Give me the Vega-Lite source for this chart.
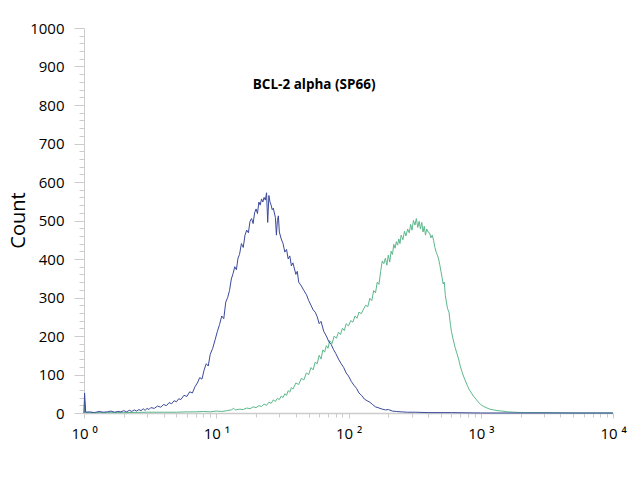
{
  "$schema": "https://vega.github.io/schema/vega-lite/v6.json",
  "width": 529,
  "height": 385,
  "autosize": {"type": "none"},
  "padding": {"left": 84, "top": 28, "right": 27, "bottom": 67},
  "background": "white",
  "config": {"view": {"stroke": null}, "font": "Open Sans"},
  "datasets": {
    "isotype": [
      {"x": 1.0, "count": 0}, {"x": 1.01, "count": 52}, {"x": 1.03, "count": 2}, {"x": 1.1, "count": 3}, {"x": 1.2, "count": 1},
      {"x": 1.3, "count": 4}, {"x": 1.4, "count": 2}, {"x": 1.5, "count": 3}, {"x": 1.6, "count": 5}, {"x": 1.7, "count": 2},
      {"x": 1.8, "count": 4}, {"x": 1.9, "count": 3}, {"x": 2.0, "count": 6}, {"x": 2.1, "count": 3}, {"x": 2.2, "count": 7},
      {"x": 2.3, "count": 4}, {"x": 2.4, "count": 8}, {"x": 2.5, "count": 5}, {"x": 2.6, "count": 9}, {"x": 2.7, "count": 6},
      {"x": 2.8, "count": 11}, {"x": 2.9, "count": 7}, {"x": 3.0, "count": 12}, {"x": 3.1, "count": 9}, {"x": 3.2, "count": 14},
      {"x": 3.4, "count": 12}, {"x": 3.6, "count": 18}, {"x": 3.8, "count": 15}, {"x": 4.0, "count": 22}, {"x": 4.2, "count": 19},
      {"x": 4.4, "count": 27}, {"x": 4.6, "count": 24}, {"x": 4.8, "count": 32}, {"x": 5.0, "count": 29}, {"x": 5.2, "count": 37},
      {"x": 5.4, "count": 35}, {"x": 5.7, "count": 46}, {"x": 6.0, "count": 43}, {"x": 6.3, "count": 55}, {"x": 6.6, "count": 52},
      {"x": 6.9, "count": 68}, {"x": 7.2, "count": 78}, {"x": 7.5, "count": 92}, {"x": 7.8, "count": 88}, {"x": 8.1, "count": 112},
      {"x": 8.4, "count": 128}, {"x": 8.7, "count": 122}, {"x": 9.0, "count": 152}, {"x": 9.4, "count": 168}, {"x": 9.8, "count": 190},
      {"x": 10.2, "count": 212}, {"x": 10.6, "count": 230}, {"x": 11.0, "count": 252}, {"x": 11.4, "count": 245}, {"x": 11.8, "count": 288},
      {"x": 12.2, "count": 300}, {"x": 12.6, "count": 318}, {"x": 13.0, "count": 348}, {"x": 13.4, "count": 362}, {"x": 13.8, "count": 380},
      {"x": 14.2, "count": 372}, {"x": 14.6, "count": 402}, {"x": 15.0, "count": 412}, {"x": 15.5, "count": 440}, {"x": 16.0, "count": 430},
      {"x": 16.5, "count": 462}, {"x": 17.0, "count": 475}, {"x": 17.5, "count": 468}, {"x": 18.0, "count": 498}, {"x": 18.5, "count": 505},
      {"x": 19.0, "count": 492}, {"x": 19.5, "count": 520}, {"x": 20.0, "count": 530}, {"x": 20.5, "count": 518}, {"x": 21.0, "count": 548},
      {"x": 21.5, "count": 540}, {"x": 22.0, "count": 556}, {"x": 22.5, "count": 548}, {"x": 23.0, "count": 560}, {"x": 23.5, "count": 553},
      {"x": 24.0, "count": 572}, {"x": 24.5, "count": 495}, {"x": 25.0, "count": 565}, {"x": 25.5, "count": 548}, {"x": 26.0, "count": 540},
      {"x": 26.5, "count": 528}, {"x": 27.0, "count": 532}, {"x": 28.0, "count": 508}, {"x": 28.5, "count": 462}, {"x": 29.0, "count": 500},
      {"x": 29.5, "count": 512}, {"x": 30.0, "count": 470}, {"x": 31.0, "count": 452}, {"x": 32.0, "count": 440}, {"x": 33.0, "count": 418},
      {"x": 34.0, "count": 425}, {"x": 35.0, "count": 400}, {"x": 36.0, "count": 408}, {"x": 37.0, "count": 382}, {"x": 38.0, "count": 390},
      {"x": 40.0, "count": 360}, {"x": 41.0, "count": 368}, {"x": 42.0, "count": 340}, {"x": 44.0, "count": 330}, {"x": 46.0, "count": 318},
      {"x": 48.0, "count": 308}, {"x": 50.0, "count": 292}, {"x": 52.0, "count": 280}, {"x": 54.0, "count": 268}, {"x": 56.0, "count": 262},
      {"x": 58.0, "count": 250}, {"x": 60.0, "count": 232}, {"x": 62.0, "count": 238}, {"x": 65.0, "count": 212}, {"x": 68.0, "count": 200},
      {"x": 71.0, "count": 185}, {"x": 74.0, "count": 178}, {"x": 77.0, "count": 165}, {"x": 80.0, "count": 155}, {"x": 84.0, "count": 140},
      {"x": 88.0, "count": 128}, {"x": 92.0, "count": 118}, {"x": 96.0, "count": 104}, {"x": 100.0, "count": 96}, {"x": 105.0, "count": 82},
      {"x": 110.0, "count": 72}, {"x": 115.0, "count": 64}, {"x": 120.0, "count": 52}, {"x": 126.0, "count": 45}, {"x": 132.0, "count": 36},
      {"x": 138.0, "count": 32}, {"x": 145.0, "count": 28}, {"x": 152.0, "count": 22}, {"x": 160.0, "count": 16}, {"x": 170.0, "count": 13},
      {"x": 180.0, "count": 10}, {"x": 190.0, "count": 8}, {"x": 200.0, "count": 9}, {"x": 215.0, "count": 5}, {"x": 230.0, "count": 4},
      {"x": 250.0, "count": 3}, {"x": 280.0, "count": 2}, {"x": 320.0, "count": 2}, {"x": 400.0, "count": 1}, {"x": 600.0, "count": 1},
      {"x": 1000.0, "count": 0}, {"x": 2000.0, "count": 0}, {"x": 10000.0, "count": 0}
    ],
    "bcl2": [
      {"x": 1.0, "count": 0}, {"x": 1.01, "count": 30}, {"x": 1.03, "count": 1}, {"x": 1.5, "count": 1}, {"x": 2.0, "count": 1},
      {"x": 3.0, "count": 2}, {"x": 4.0, "count": 2}, {"x": 5.0, "count": 2}, {"x": 6.0, "count": 3}, {"x": 7.0, "count": 3},
      {"x": 8.0, "count": 4}, {"x": 9.0, "count": 3}, {"x": 10.0, "count": 5}, {"x": 11.0, "count": 4}, {"x": 12.0, "count": 6},
      {"x": 13.0, "count": 8}, {"x": 13.5, "count": 12}, {"x": 14.0, "count": 8}, {"x": 15.0, "count": 10}, {"x": 16.0, "count": 9},
      {"x": 17.0, "count": 13}, {"x": 18.0, "count": 11}, {"x": 19.0, "count": 16}, {"x": 20.0, "count": 14}, {"x": 21.0, "count": 19},
      {"x": 22.0, "count": 17}, {"x": 23.0, "count": 23}, {"x": 24.0, "count": 20}, {"x": 25.0, "count": 28}, {"x": 26.0, "count": 25},
      {"x": 27.0, "count": 34}, {"x": 28.0, "count": 30}, {"x": 29.0, "count": 38}, {"x": 30.0, "count": 35}, {"x": 31.0, "count": 44},
      {"x": 32.0, "count": 40}, {"x": 33.0, "count": 50}, {"x": 34.0, "count": 46}, {"x": 35.0, "count": 58}, {"x": 36.0, "count": 54},
      {"x": 37.0, "count": 66}, {"x": 38.0, "count": 62}, {"x": 40.0, "count": 78}, {"x": 42.0, "count": 74}, {"x": 44.0, "count": 90},
      {"x": 46.0, "count": 86}, {"x": 48.0, "count": 104}, {"x": 50.0, "count": 100}, {"x": 52.0, "count": 118}, {"x": 54.0, "count": 112},
      {"x": 56.0, "count": 132}, {"x": 58.0, "count": 128}, {"x": 60.0, "count": 150}, {"x": 62.0, "count": 140}, {"x": 64.0, "count": 164},
      {"x": 66.0, "count": 158}, {"x": 68.0, "count": 175}, {"x": 70.0, "count": 168}, {"x": 72.0, "count": 188}, {"x": 75.0, "count": 180},
      {"x": 78.0, "count": 200}, {"x": 81.0, "count": 194}, {"x": 84.0, "count": 210}, {"x": 87.0, "count": 204}, {"x": 90.0, "count": 220},
      {"x": 93.0, "count": 214}, {"x": 96.0, "count": 232}, {"x": 100.0, "count": 226}, {"x": 104.0, "count": 240}, {"x": 108.0, "count": 236},
      {"x": 112.0, "count": 252}, {"x": 116.0, "count": 246}, {"x": 120.0, "count": 262}, {"x": 125.0, "count": 258}, {"x": 130.0, "count": 270},
      {"x": 135.0, "count": 280}, {"x": 140.0, "count": 276}, {"x": 145.0, "count": 298}, {"x": 150.0, "count": 292}, {"x": 155.0, "count": 318},
      {"x": 160.0, "count": 312}, {"x": 165.0, "count": 340}, {"x": 170.0, "count": 334}, {"x": 175.0, "count": 368}, {"x": 180.0, "count": 395},
      {"x": 185.0, "count": 388}, {"x": 190.0, "count": 402}, {"x": 195.0, "count": 384}, {"x": 200.0, "count": 410}, {"x": 205.0, "count": 392},
      {"x": 210.0, "count": 420}, {"x": 215.0, "count": 412}, {"x": 220.0, "count": 438}, {"x": 225.0, "count": 428}, {"x": 230.0, "count": 445},
      {"x": 235.0, "count": 436}, {"x": 240.0, "count": 452}, {"x": 245.0, "count": 440}, {"x": 250.0, "count": 462}, {"x": 258.0, "count": 450},
      {"x": 265.0, "count": 472}, {"x": 272.0, "count": 460}, {"x": 280.0, "count": 478}, {"x": 288.0, "count": 468}, {"x": 295.0, "count": 490},
      {"x": 302.0, "count": 475}, {"x": 310.0, "count": 500}, {"x": 318.0, "count": 488}, {"x": 326.0, "count": 505}, {"x": 334.0, "count": 482},
      {"x": 342.0, "count": 498}, {"x": 350.0, "count": 478}, {"x": 358.0, "count": 495}, {"x": 366.0, "count": 470}, {"x": 374.0, "count": 485},
      {"x": 382.0, "count": 462}, {"x": 390.0, "count": 478}, {"x": 400.0, "count": 470}, {"x": 410.0, "count": 468}, {"x": 420.0, "count": 455},
      {"x": 430.0, "count": 462}, {"x": 440.0, "count": 448}, {"x": 450.0, "count": 430}, {"x": 460.0, "count": 418}, {"x": 470.0, "count": 410},
      {"x": 480.0, "count": 400}, {"x": 490.0, "count": 385}, {"x": 500.0, "count": 368}, {"x": 510.0, "count": 352}, {"x": 520.0, "count": 335},
      {"x": 530.0, "count": 340}, {"x": 540.0, "count": 305}, {"x": 550.0, "count": 288}, {"x": 560.0, "count": 272}, {"x": 575.0, "count": 262},
      {"x": 590.0, "count": 230}, {"x": 600.0, "count": 212}, {"x": 620.0, "count": 190}, {"x": 640.0, "count": 170}, {"x": 660.0, "count": 155},
      {"x": 680.0, "count": 140}, {"x": 700.0, "count": 122}, {"x": 720.0, "count": 108}, {"x": 740.0, "count": 96}, {"x": 760.0, "count": 86},
      {"x": 790.0, "count": 72}, {"x": 820.0, "count": 60}, {"x": 850.0, "count": 52}, {"x": 880.0, "count": 44}, {"x": 920.0, "count": 36},
      {"x": 960.0, "count": 28}, {"x": 1000.0, "count": 22}, {"x": 1050.0, "count": 17}, {"x": 1100.0, "count": 14}, {"x": 1170.0, "count": 10},
      {"x": 1250.0, "count": 8}, {"x": 1350.0, "count": 6}, {"x": 1450.0, "count": 5}, {"x": 1600.0, "count": 3}, {"x": 1800.0, "count": 2},
      {"x": 2100.0, "count": 1}, {"x": 3000.0, "count": 1}, {"x": 5000.0, "count": 0}, {"x": 10000.0, "count": 0}
    ],
    "annotation": [
      {"x": 55, "count": 852, "label": "BCL-2 alpha (SP66)"}
    ]
  },
  "layer": [
    {
      "data": {"name": "bcl2"},
      "mark": {"type": "line", "color": "#5cb88b", "strokeWidth": 1},
      "encoding": {
        "x": {
          "field": "x", "type": "quantitative",
          "scale": {"type": "log", "domain": [1, 10000], "nice": false},
          "axis": {
            "orient": "bottom", "title": null, "grid": false,
            "values": [1, 10, 100, 1000, 10000],
            "labelExpr": "datum.value == 1 ? '10 ⁰' : datum.value == 10 ? '10 ¹' : datum.value == 100 ? '10 ²' : datum.value == 1000 ? '10 ³' : '10 ⁴'",
            "labelFontSize": 15, "labelColor": "#000000", "labelPadding": 8, "labelFlush": false,
            "tickSize": 5, "tickColor": "#cccccc", "domainColor": "#cccccc", "domainWidth": 1.5
          }
        },
        "y": {
          "field": "count", "type": "quantitative",
          "scale": {"domain": [0, 1000], "nice": false},
          "axis": {
            "orient": "left", "title": "Count", "grid": false, "format": "d",
            "values": [0, 100, 200, 300, 400, 500, 600, 700, 800, 900, 1000],
            "labelFontSize": 15, "labelColor": "#000000", "labelPadding": 10,
            "tickSize": 10, "tickColor": "#cccccc", "domainColor": "#cccccc",
            "titleFontSize": 20, "titleFontWeight": "normal", "titleColor": "#000000",
            "titleX": -56, "titleY": 192
          }
        }
      }
    },
    {
      "data": {"name": "isotype"},
      "mark": {"type": "line", "color": "#3b4a9b", "strokeWidth": 1},
      "encoding": {
        "x": {"field": "x", "type": "quantitative", "axis": null},
        "y": {"field": "count", "type": "quantitative", "axis": null}
      }
    },
    {
      "data": {"name": "annotation"},
      "mark": {"type": "text", "fontSize": 13.5, "fontWeight": "bold", "color": "#000000"},
      "encoding": {
        "x": {
          "field": "x", "type": "quantitative",
          "axis": {
            "orient": "bottom", "title": null, "grid": false, "labels": false, "domain": false,
            "values": [2, 3, 4, 5, 6, 7, 8, 9, 20, 30, 40, 50, 60, 70, 80, 90, 200, 300, 400, 500, 600, 700, 800, 900, 2000, 3000, 4000, 5000, 6000, 7000, 8000, 9000],
            "tickSize": 4, "tickColor": "#cccccc"
          }
        },
        "y": {
          "field": "count", "type": "quantitative",
          "axis": {
            "orient": "left", "title": null, "grid": false, "labels": false, "domain": false,
            "values": [20, 40, 60, 80, 120, 140, 160, 180, 220, 240, 260, 280, 320, 340, 360, 380, 420, 440, 460, 480, 520, 540, 560, 580, 620, 640, 660, 680, 720, 740, 760, 780, 820, 840, 860, 880, 920, 940, 960, 980],
            "tickSize": 5, "tickColor": "#cccccc"
          }
        },
        "text": {"field": "label", "type": "nominal"}
      }
    }
  ],
  "resolve": {"axis": {"x": "independent", "y": "independent"}}
}
